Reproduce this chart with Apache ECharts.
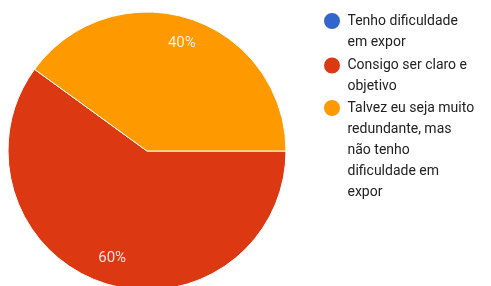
<!DOCTYPE html>
<html>
<head>
<meta charset="utf-8">
<script src="https://cdn.jsdelivr.net/npm/echarts@6/dist/echarts.min.js"></script>
<style>
    html, body { margin: 0; padding: 0; background: #fff; }
    #chart { width: 491px; height: 286px; }
</style>
</head>
<body>
<div id="chart"></div>
<script>
// answers of the form question, in legend order
const answers = [
    'Tenho dificuldade em expor',
    'Consigo ser claro e objetivo',
    'Talvez eu seja muito redundante, mas não tenho dificuldade em expor'
];
// how the legend wraps each answer
const legendLines = [
    ['Tenho dificuldade', 'em expor'],
    ['Consigo ser claro e', 'objetivo'],
    ['Talvez eu seja muito', 'redundante, mas', 'não tenho', 'dificuldade em', 'expor']
];
const shares = [0, 60, 40];
const colors = ['#3366cc', '#dc3912', '#ff9900'];

const lineH = 21;
const pieCenter = [147, 151];
const pieRadius = 139;
// y of the dot (= first text line) for each legend entry
const legendDotY = [21, 65.5, 108];

var myChart = echarts.init(document.getElementById('chart'));

const pieData = answers.map((name, i) => ({
    name: name,
    value: shares[i],
    itemStyle: { color: colors[i] }
}));

// one legend per answer; blank lines above the text keep the dot on the first line
const legends = answers.map((name, i) => {
    const n = legendLines[i].length;
    return {
        orient: 'vertical',
        left: 322,
        top: legendDotY[i] - (2 * n - 1) * lineH / 2,
        padding: 0,
        itemWidth: 21,
        itemHeight: 18,
        icon: 'circle',
        selectedMode: false,
        data: [name],
        formatter: nm => '\n'.repeat(n - 1) + legendLines[i].join('\n'),
        textStyle: {
            fontFamily: 'Roboto',
            fontSize: 14,
            lineHeight: lineH,
            color: '#222'
        }
    };
});

myChart.setOption({
    animation: false,
    legend: legends,
    series: [
        {
            type: 'pie',
            center: pieCenter,
            radius: pieRadius,
            startAngle: 0,
            clockwise: true,
            silent: true,
            label: { show: false },
            labelLine: { show: false },
            itemStyle: { borderColor: '#fff', borderWidth: 1 },
            data: pieData
        },
        {
            // transparent ring only used to place the percent labels
            type: 'pie',
            center: pieCenter,
            radius: [pieRadius * 0.58, pieRadius],
            startAngle: 0,
            clockwise: true,
            silent: true,
            legendHoverLink: false,
            avoidLabelOverlap: false,
            itemStyle: { color: 'rgba(0,0,0,0)' },
            label: {
                show: true,
                position: 'inside',
                fontFamily: 'Roboto',
                fontSize: 15,
                color: 'rgba(255,255,255,0.85)',
                formatter: p => p.value ? Math.round(p.percent) + '%' : ''
            },
            labelLine: { show: false },
            data: answers.map((name, i) => ({ name: name, value: shares[i] }))
        }
    ]
});
</script>
</body>
</html>
